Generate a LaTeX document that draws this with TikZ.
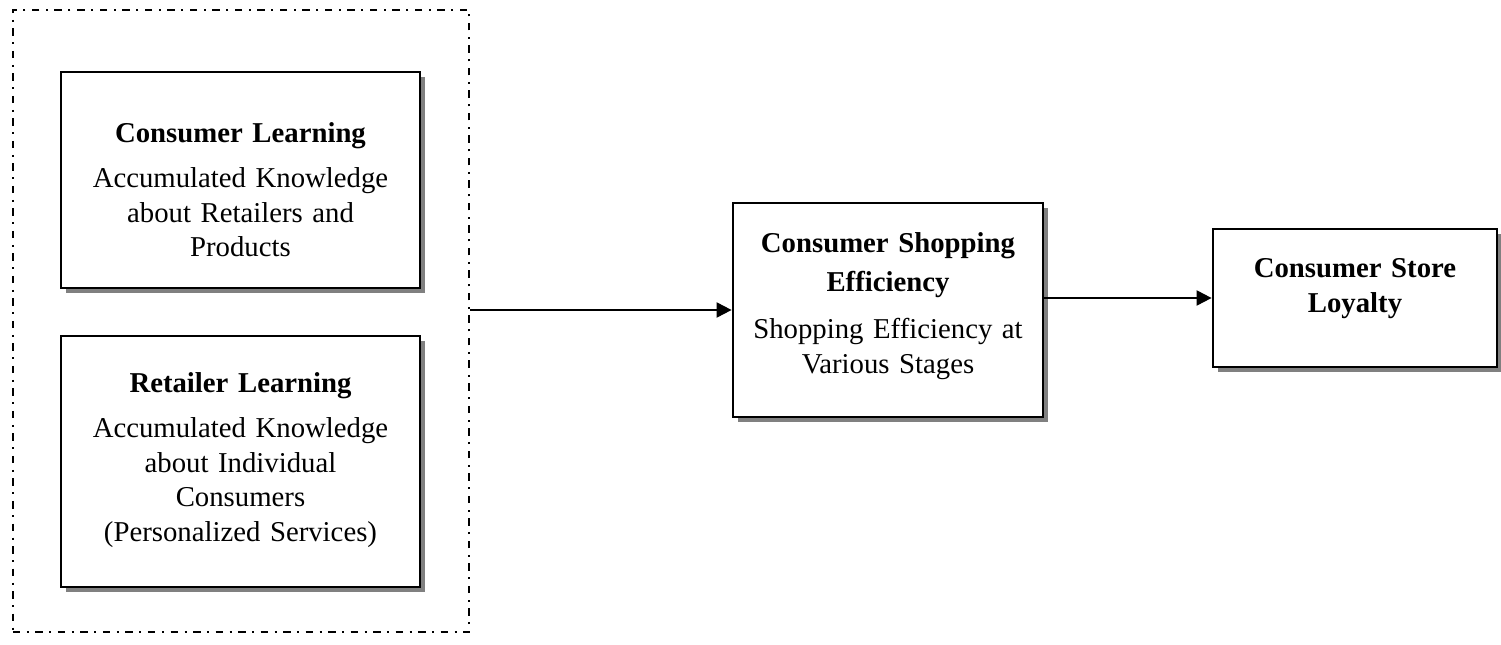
\documentclass[tikz,border=0pt]{standalone}
\usepackage{fontspec}
\setmainfont{Liberation Serif}
\usetikzlibrary{arrows.meta,shadows}
\begin{document}
\begin{tikzpicture}[x=0.4pt,y=-0.4pt,
  box/.style={draw=black,line width=1.1pt,fill=white,inner sep=0pt,
    drop shadow={shadow xshift=2pt,shadow yshift=-2pt,opacity=1,fill=black!50}},
  txt/.style={inner sep=0pt,align=center,anchor=base,
    font=\fontsize{11.5pt}{13.8pt}\selectfont},
  grpbox/.style={draw=black,line width=0.9pt,inner sep=0pt,
    dash pattern=on 3pt off 2.6pt on 0.8pt off 2.6pt},
  conn/.style={line width=0.8pt,-{Triangle[length=6pt,width=6pt]}}]
\useasboundingbox (0,0) rectangle (1501,645);
\node[grpbox,minimum width=182.4pt,minimum height=248.8pt] (grp) at (241,321) {};
\node[box,minimum width=143.6pt,minimum height=86.4pt] (b1) at (240.5,180) {};
\node[box,minimum width=143.6pt,minimum height=100.4pt] (b2) at (240.5,461.5) {};
\node[box,minimum width=124pt,minimum height=85.6pt] (b3) at (888,310) {};
\node[box,minimum width=113.6pt,minimum height=55.2pt] (b4) at (1355,298) {};
\node[txt,text width=140pt] (t1) at (240.5,143) {\textbf{Consumer Learning}\\[4.2pt]Accumulated Knowledge\\about Retailers and\\Products};
\node[txt,text width=140pt] (t2) at (240.5,393) {\textbf{Retailer Learning}\\[4.2pt]Accumulated Knowledge\\about Individual\\Consumers\\(Personalized Services)};
\node[txt,text width=120pt] (t3) at (888,253) {\textbf{Consumer Shopping}\\[1.6pt]\textbf{Efficiency}\\[5pt]Shopping Efficiency at\\Various Stages};
\node[txt,text width=110pt] (t4) at (1355,278) {\textbf{Consumer Store}\\\textbf{Loyalty}};
\draw[conn] (grp.east |- b3.west) -- (b3.west);
\draw[conn] (b3.east |- b4.west) -- (b4.west);
\end{tikzpicture}
\end{document}
